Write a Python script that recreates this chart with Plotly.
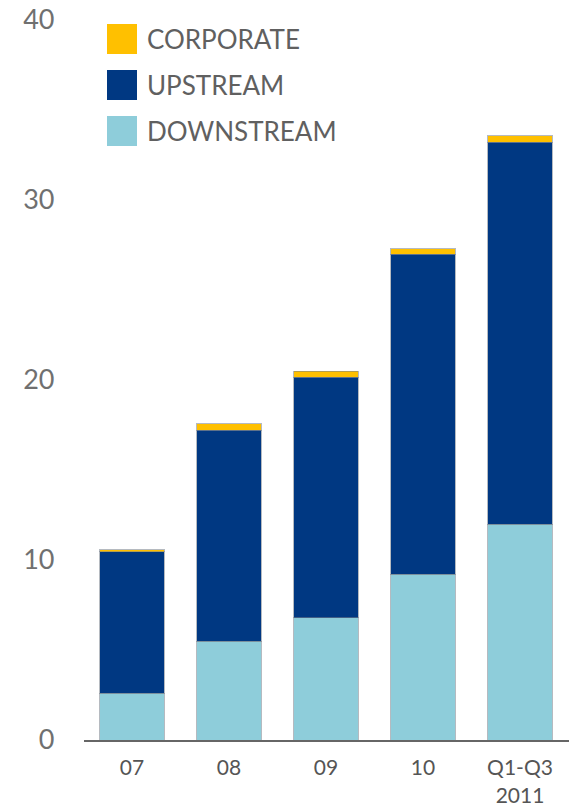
import plotly.graph_objects as go

categories = ["07", "08", "09", "10", "Q1-Q3<br>2011"]
downstream = [2.6, 5.5, 6.8, 9.2, 12.0]
upstream = [7.85, 11.7, 13.35, 17.8, 21.2]
corporate = [0.13, 0.37, 0.35, 0.3, 0.36]
y_ticks = [0, 10, 20, 30, 40]

series = [
    ("DOWNSTREAM", downstream, "#8ECDDA"),
    ("UPSTREAM", upstream, "#003882"),
    ("CORPORATE", corporate, "#FFC000"),
]

fig = go.Figure()
for name, vals, col in series:
    fig.add_trace(go.Bar(
        x=categories, y=vals, name=name,
        marker=dict(color=col, line=dict(color="rgba(120,130,140,0.55)", width=1)),
        showlegend=False,
    ))

# legend swatches (top to bottom: corporate, upstream, downstream)
legend_items = list(reversed(series))
sw_x0, sw_x1 = 107 / 570, 137 / 570
tops = [24, 70, 116]
for (name, vals, col), top in zip(legend_items, tops):
    y0 = 1 - (top + 30) / 806
    y1 = 1 - top / 806
    fig.add_shape(type="rect", xref="paper", yref="paper",
                  x0=sw_x0, x1=sw_x1, y0=y0, y1=y1,
                  fillcolor=col, line=dict(width=0), layer="above")
    fig.add_annotation(xref="paper", yref="paper", x=145 / 570, y=(y0 + y1) / 2,
                       text=name, showarrow=False, xanchor="left", yanchor="middle",
                       font=dict(family="Lato", size=26, color="#606060"))

fig.update_layout(
    width=570, height=806,
    barmode="stack", bargap=0.34,
    plot_bgcolor="white", paper_bgcolor="white",
    margin=dict(l=0, r=0, t=0, b=0, autoexpand=False),
    font=dict(family="Lato", color="#666666"),
    xaxis=dict(
        domain=[83.5 / 570, 568.5 / 570], automargin=False,
        showline=True, linecolor="#666666", linewidth=2,
        showgrid=False, zeroline=False, ticks="",
        tickfont=dict(size=21, color="#555555"),
        ticklabelstandoff=8,
    ),
    yaxis=dict(
        domain=[66 / 806, 786 / 806], automargin=False,
        range=[0, 40], tickvals=y_ticks,
        showgrid=False, zeroline=False, showline=False, ticks="",
        tickfont=dict(size=27, color="#707070"),
        ticklabelstandoff=28,
    ),
)

fig.write_html("out.html")
